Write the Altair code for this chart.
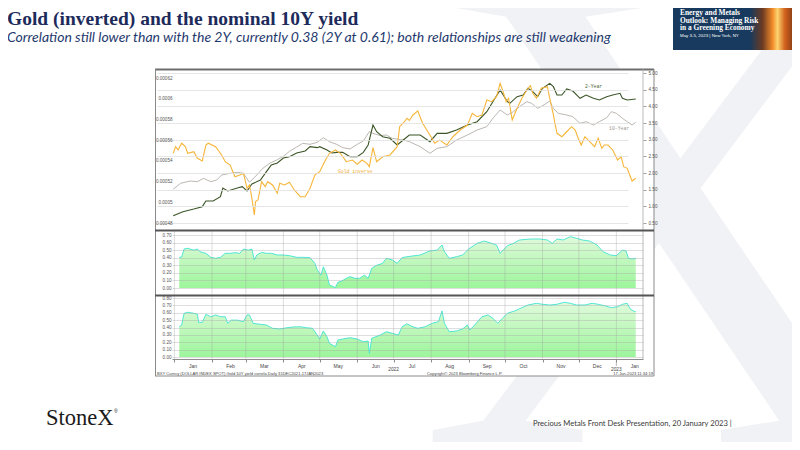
import altair as alt
import pandas as pd

# ------------------------------------------------------------------ data
y2_dates = ["2021-12-31","2022-01-08","2022-01-17","2022-01-24","2022-01-27","2022-02-02","2022-02-08","2022-02-10",
            "2022-02-14","2022-02-22","2022-02-26","2022-03-02","2022-03-06","2022-03-13","2022-03-18","2022-03-22",
            "2022-03-27","2022-04-01","2022-04-06","2022-04-12","2022-04-19","2022-04-23","2022-04-29","2022-05-01",
            "2022-05-07","2022-05-11","2022-05-15","2022-05-20","2022-05-26","2022-06-01","2022-06-06","2022-06-10",
            "2022-06-14","2022-06-17","2022-06-22","2022-06-28","2022-07-04","2022-07-09","2022-07-14","2022-07-23",
            "2022-07-31","2022-08-06","2022-08-14","2022-08-22","2022-08-31","2022-09-08","2022-09-16","2022-09-21",
            "2022-09-27","2022-10-03","2022-10-05","2022-10-11","2022-10-16","2022-10-20","2022-10-24","2022-10-28",
            "2022-11-01","2022-11-07","2022-11-10","2022-11-13","2022-11-17","2022-11-21","2022-11-26","2022-12-02",
            "2022-12-07","2022-12-13","2022-12-18","2022-12-24","2022-12-29","2023-01-04","2023-01-06","2023-01-10",
            "2023-01-17"]
y2_vals = [0.72,0.84,0.92,0.99,1.16,1.16,1.29,1.55,1.46,1.55,1.59,1.46,1.67,1.79,2.04,2.24,2.30,2.45,2.49,2.60,
           2.66,2.79,2.76,2.79,2.69,2.60,2.62,2.62,2.49,2.49,2.62,2.84,3.44,3.24,3.09,3.04,2.84,2.99,3.14,3.14,
           2.94,3.19,3.19,3.29,3.44,3.54,3.84,4.14,4.49,4.14,4.09,4.29,4.34,4.54,4.44,4.29,4.54,4.69,4.59,4.34,
           4.34,4.52,4.46,4.24,4.34,4.24,4.19,4.29,4.34,4.39,4.24,4.19,4.22]

y10_dates = ["2021-12-31","2022-01-06","2022-01-14","2022-01-20","2022-01-25","2022-01-31","2022-02-05","2022-02-09",
             "2022-02-16","2022-02-22","2022-02-27","2022-03-04","2022-03-10","2022-03-15","2022-03-21","2022-03-27",
             "2022-04-01","2022-04-06","2022-04-12","2022-04-17","2022-04-23","2022-04-29","2022-05-04","2022-05-09",
             "2022-05-15","2022-05-20","2022-05-26","2022-06-01","2022-06-06","2022-06-11","2022-06-14","2022-06-20",
             "2022-06-25","2022-06-30","2022-07-09","2022-07-14","2022-07-23","2022-07-31","2022-08-06","2022-08-14",
             "2022-08-22","2022-08-31","2022-09-08","2022-09-16","2022-09-21","2022-09-27","2022-10-03","2022-10-08",
             "2022-10-13","2022-10-19","2022-10-23","2022-10-28","2022-11-03","2022-11-07","2022-11-10","2022-11-14",
             "2022-11-21","2022-11-26","2022-12-02","2022-12-07","2022-12-13","2022-12-18","2022-12-24","2022-12-28",
             "2023-01-01","2023-01-06","2023-01-10","2023-01-14","2023-01-17"]
y10_vals = [1.51,1.69,1.76,1.74,1.84,1.74,1.79,1.94,1.99,2.02,1.99,1.72,1.94,2.14,2.30,2.40,2.50,2.65,2.78,2.89,
            2.86,2.92,3.06,2.94,2.86,2.76,2.72,2.86,2.96,3.24,3.19,3.12,3.14,3.04,2.99,2.94,2.79,2.59,2.74,2.79,
            2.99,3.14,3.29,3.39,3.64,3.89,3.74,3.84,3.99,4.14,4.09,3.94,4.06,4.16,3.94,3.79,3.74,3.69,3.49,3.54,
            3.44,3.54,3.66,3.84,3.79,3.64,3.54,3.44,3.52]

gold_dates = ["2021-12-31","2022-01-02","2022-01-04","2022-01-07","2022-01-10","2022-01-12","2022-01-17","2022-01-20",
              "2022-01-24","2022-01-27","2022-01-29","2022-02-04","2022-02-09","2022-02-12","2022-02-16","2022-02-20",
              "2022-02-24","2022-02-27","2022-03-02","2022-03-04","2022-03-06","2022-03-08","2022-03-09","2022-03-11",
              "2022-03-14","2022-03-17","2022-03-19","2022-03-23","2022-03-27","2022-03-29","2022-04-02","2022-04-06",
              "2022-04-10","2022-04-15","2022-04-19","2022-04-23","2022-04-27","2022-05-01","2022-05-05","2022-05-09",
              "2022-05-14","2022-05-18","2022-05-23","2022-05-28","2022-06-01","2022-06-05","2022-06-09","2022-06-11",
              "2022-06-14","2022-06-17","2022-06-22","2022-06-28","2022-07-04","2022-07-06","2022-07-10","2022-07-12",
              "2022-07-14","2022-07-17","2022-07-21","2022-07-25","2022-07-31","2022-08-04","2022-08-08","2022-08-14",
              "2022-08-19","2022-08-25","2022-08-31","2022-09-04","2022-09-08","2022-09-12","2022-09-16","2022-09-20",
              "2022-09-24","2022-09-27","2022-09-29","2022-10-02","2022-10-04","2022-10-07","2022-10-11","2022-10-15",
              "2022-10-19","2022-10-22","2022-10-24","2022-10-27","2022-10-31","2022-11-05","2022-11-07","2022-11-10",
              "2022-11-11","2022-11-13","2022-11-17","2022-11-21","2022-11-25","2022-11-28","2022-11-30","2022-12-03",
              "2022-12-06","2022-12-10","2022-12-14","2022-12-17","2022-12-20","2022-12-22","2022-12-25","2022-12-29",
              "2023-01-02","2023-01-05","2023-01-07","2023-01-10","2023-01-12","2023-01-14","2023-01-17"]
gold_vals = [0.0005473,0.0005537,0.0005505,0.0005570,0.0005537,0.0005473,0.0005488,0.0005425,
             0.0005399,0.0005553,0.0005570,0.0005537,0.0005457,0.0005392,0.0005360,0.0005247,
             0.0005263,0.0005280,0.0005135,0.0005167,0.0005038,0.0004877,0.0005006,0.0005022,
             0.0005199,0.0005151,0.0005199,0.0005167,0.0005087,0.0005183,0.0005167,0.0005193,
             0.0005119,0.0005054,0.0005054,0.0005135,0.0005263,0.0005295,0.0005392,0.0005473,
             0.0005505,0.0005473,0.0005392,0.0005408,0.0005367,0.0005408,0.0005376,0.0005344,
             0.0005527,0.0005392,0.0005440,0.0005457,0.0005537,0.0005730,0.0005778,0.0005811,
             0.0005790,0.0005843,0.0005882,0.0005763,0.0005650,0.0005570,0.0005601,0.0005553,
             0.0005633,0.0005698,0.0005746,0.0005859,0.0005826,0.0005843,0.0005988,0.0005971,
             0.0006019,0.0006149,0.0006084,0.0005971,0.0006004,0.0005795,0.0005908,0.0006004,
             0.0006084,0.0006126,0.0006052,0.0006004,0.0006101,0.0006116,0.0006004,0.0005843,
             0.0005778,0.0005666,0.0005633,0.0005681,0.0005730,0.0005698,0.0005633,0.0005553,
             0.0005633,0.0005585,0.0005537,0.0005618,0.0005521,0.0005553,0.0005553,0.0005505,
             0.0005408,0.0005440,0.0005344,0.0005328,0.0005263,0.0005205,0.0005232]

c10_dates = ["2022-01-05","2022-01-07","2022-01-09","2022-01-12","2022-01-17","2022-01-20","2022-01-22","2022-01-27",
             "2022-01-31","2022-02-04","2022-02-08","2022-02-12","2022-02-16","2022-02-20","2022-02-24","2022-02-27",
             "2022-03-03","2022-03-06","2022-03-08","2022-03-10","2022-03-14","2022-03-18","2022-03-22","2022-03-27",
             "2022-04-01","2022-04-06","2022-04-12","2022-04-17","2022-04-23","2022-04-27","2022-04-29","2022-05-02",
             "2022-05-04","2022-05-07","2022-05-09","2022-05-12","2022-05-14","2022-05-16","2022-05-19","2022-05-23",
             "2022-05-26","2022-05-30","2022-06-03","2022-06-07","2022-06-10","2022-06-13","2022-06-17","2022-06-22",
             "2022-06-25","2022-06-30","2022-07-04","2022-07-08","2022-07-12","2022-07-23","2022-07-31","2022-08-06",
             "2022-08-10","2022-08-12","2022-08-16","2022-08-22","2022-08-27","2022-09-01","2022-09-08","2022-09-14",
             "2022-09-20","2022-09-24","2022-09-27","2022-10-03","2022-10-08","2022-10-13","2022-10-22","2022-10-30",
             "2022-11-05","2022-11-09","2022-11-13","2022-11-18","2022-11-24","2022-11-29","2022-12-04","2022-12-10",
             "2022-12-16","2022-12-21","2022-12-27","2023-01-01","2023-01-06","2023-01-09","2023-01-11","2023-01-14",
             "2023-01-17"]
c10_vals = [0.405,0.41,0.515,0.524,0.50,0.515,0.48,0.458,0.405,0.392,0.405,0.458,0.458,0.466,0.458,0.515,
            0.50,0.515,0.37,0.436,0.47,0.458,0.458,0.436,0.436,0.427,0.405,0.405,0.40,0.326,0.238,0.17,
            0.28,0.17,0.04,0.02,0.005,0.075,0.09,0.128,0.15,0.128,0.128,0.17,0.128,0.26,0.30,0.326,
            0.392,0.37,0.326,0.40,0.413,0.436,0.49,0.50,0.568,0.48,0.392,0.413,0.436,0.515,0.59,0.62,
            0.59,0.568,0.458,0.559,0.59,0.634,0.647,0.647,0.634,0.59,0.647,0.634,0.678,0.657,0.634,0.62,
            0.568,0.48,0.436,0.427,0.50,0.49,0.392,0.383,0.392]

c2_dates = ["2022-01-05","2022-01-07","2022-01-09","2022-01-12","2022-01-17","2022-01-20","2022-01-21","2022-01-24",
            "2022-01-27","2022-01-31","2022-02-04","2022-02-08","2022-02-12","2022-02-14","2022-02-17","2022-02-22",
            "2022-02-27","2022-03-02","2022-03-04","2022-03-07","2022-03-13","2022-03-18","2022-03-23","2022-03-29",
            "2022-04-04","2022-04-09","2022-04-15","2022-04-20","2022-04-25","2022-04-29","2022-05-01","2022-05-04",
            "2022-05-07","2022-05-09","2022-05-14","2022-05-16","2022-05-20","2022-05-26","2022-06-01","2022-06-06",
            "2022-06-10","2022-06-11","2022-06-13","2022-06-20","2022-06-25","2022-06-30","2022-07-05","2022-07-08",
            "2022-07-12","2022-07-17","2022-07-21","2022-07-27","2022-08-02","2022-08-07","2022-08-10","2022-08-12",
            "2022-08-16","2022-08-22","2022-08-27","2022-08-31","2022-09-02","2022-09-06","2022-09-12","2022-09-17",
            "2022-09-21","2022-09-25","2022-09-29","2022-10-03","2022-10-09","2022-10-15","2022-10-20","2022-10-27",
            "2022-11-01","2022-11-07","2022-11-13","2022-11-19","2022-11-24","2022-11-29","2022-12-06","2022-12-12",
            "2022-12-17","2022-12-22","2022-12-28","2023-01-02","2023-01-06","2023-01-10","2023-01-12","2023-01-15",
            "2023-01-17"]
c2_vals = [0.41,0.434,0.593,0.606,0.593,0.579,0.47,0.47,0.579,0.546,0.57,0.546,0.546,0.457,0.50,0.50,
           0.479,0.57,0.57,0.457,0.443,0.434,0.389,0.38,0.397,0.407,0.41,0.397,0.389,0.298,0.244,0.353,
           0.275,0.186,0.14,0.23,0.244,0.262,0.244,0.207,0.217,0.05,0.254,0.298,0.343,0.321,0.298,0.41,
           0.45,0.41,0.389,0.41,0.457,0.479,0.624,0.457,0.343,0.353,0.38,0.434,0.366,0.434,0.546,0.57,
           0.525,0.457,0.525,0.593,0.624,0.669,0.705,0.728,0.715,0.705,0.715,0.742,0.728,0.705,0.705,0.728,
           0.715,0.696,0.669,0.682,0.715,0.728,0.66,0.624,0.614]

month_ticks = ["2022-01-01","2022-02-01","2022-03-01","2022-04-01","2022-05-01","2022-06-01","2022-07-01",
               "2022-08-01","2022-09-01","2022-10-01","2022-11-01","2022-12-01","2023-01-01"]
year_labels = ["2022", "2023"]
year_dates = ["2022-07-01", "2023-01-01"]

gold_ticks = [0.00048, 0.0005, 0.00052, 0.00054, 0.00056, 0.00058, 0.0006, 0.00062]
yield_ticks = [0.5, 1.0, 1.5, 2.0, 2.5, 3.0, 3.5, 4.0, 4.5, 5.0]
c10_ticks = [0.0, 0.1, 0.2, 0.3, 0.4, 0.5, 0.6, 0.7]
c2_ticks = [0.0, 0.1, 0.2, 0.3, 0.4, 0.5, 0.6, 0.7, 0.8]

series_labels = ["Gold inverse", "2-Year", "10-Year"]
label_dates = ["2022-05-16", "2022-12-06", "2022-12-26"]
label_vals = [0.0005292, 4.58, 3.32]

# ------------------------------------------------------------------ helpers
M = 8  # page margin
one = alt.Data(values=[{"k": 1}])


def dt(s):
    y, m, d = (int(p) for p in s.split("-"))
    return alt.DateTime(year=y, month=m, date=d, utc=True)


def txt(s, X, Y, size, color, font="Lato", weight="normal", style="normal", align="left", baseline="alphabetic"):
    return alt.Chart(one).mark_text(text=s, fontSize=size, color=color, font=font, fontWeight=weight,
                                    fontStyle=style, align=align, baseline=baseline).encode(
        x=alt.value(X - M), y=alt.value(Y - M))


def rect(X1, Y1, X2, Y2, fill):
    return alt.Chart(one).mark_rect(color=fill).encode(
        x=alt.value(X1 - M), x2=alt.value(X2 - M), y=alt.value(Y1 - M), y2=alt.value(Y2 - M))


def hline(X1, X2, Y, color, w):
    return alt.Chart(one).mark_rule(color=color, strokeWidth=w).encode(
        x=alt.value(X1 - M), x2=alt.value(X2 - M), y=alt.value(Y - M))


def vline(X, Y1, Y2, color, w):
    return alt.Chart(one).mark_rule(color=color, strokeWidth=w).encode(
        x=alt.value(X - M), y=alt.value(Y1 - M), y2=alt.value(Y2 - M))


def frame(dates, vals):
    return pd.DataFrame({"date": dates, "v": vals})


# ------------------------------------------------------------------ scales / axes
xs = alt.Scale(type="utc", domain=[dt("2021-12-30"), dt("2023-01-23")], range=[164, 635])
xaxis = alt.Axis(values=[dt(s) for s in month_ticks], format="%b", labelOffset=18, offset=-83,
                 orient="bottom", grid=False, domainColor="#8c8c8c", tickColor="#8c8c8c", tickSize=3,
                 labelFontSize=5, labelColor="#444", labelPadding=1, labelFont="Liberation Sans",
                 labelOverlap=False, labelFlush=False, labelBound=False, title=None, zindex=2)
X = alt.X("date:T", scale=xs, axis=xaxis, title=None)

AX = dict(labelFont="Liberation Sans", labelFontSize=4.6, labelColor="#555", title=None, labelOverlap=False)

gold_s = alt.Scale(domain=[0.00048, 0.00062], range=[215, 70], zero=False, nice=False)
yld_s = alt.Scale(domain=[0.5, 5.0], range=[215, 65], zero=False, nice=False)
c10_s = alt.Scale(domain=[0.0, 0.7], range=[280, 227], nice=False)
c2_s = alt.Scale(domain=[0.0, 0.8], range=[349, 290], nice=False)

gold_ax = alt.Axis(orient="left", offset=-166, values=gold_ticks, format="~g", grid=False, ticks=False,
                   domain=False, labelPadding=2, zindex=2, **AX)
yld_ax = alt.Axis(orient="right", offset=-149, values=yield_ticks, format=".2f", grid=True,
                  gridColor="#e0e0e0", gridWidth=0.8, ticks=True, tickSize=3, tickColor="#a0a0a0",
                  domain=False, labelPadding=2, zindex=1, **AX)
c10_ax = alt.Axis(orient="left", offset=-167, values=c10_ticks, format=".2f", grid=True,
                  gridColor="#a9a9a9", gridOpacity=0.55, gridWidth=0.7, ticks=False, domain=False,
                  labelPadding=4, zindex=1, **AX)
c2_ax = alt.Axis(orient="left", offset=-167, values=c2_ticks, format=".2f", grid=True,
                 gridColor="#a9a9a9", gridOpacity=0.55, gridWidth=0.7, ticks=False, domain=False,
                 labelPadding=4, zindex=1, **AX)

green = alt.Gradient(gradient="linear", x1=1, x2=1, y1=1, y2=0,
                     stops=[alt.GradientStop(color="#72f170", offset=0),
                            alt.GradientStop(color="#d3f8cd", offset=1)])
fire = alt.Gradient(gradient="linear", x1=0, y1=0.5, x2=1, y2=0.5,
                    stops=[alt.GradientStop(color="#173a5e", offset=0),
                           alt.GradientStop(color="#6b3a22", offset=0.25),
                           alt.GradientStop(color="#f08a2a", offset=0.45),
                           alt.GradientStop(color="#ffd36e", offset=0.55),
                           alt.GradientStop(color="#d2601c", offset=0.7),
                           alt.GradientStop(color="#4a2012", offset=1)])

# ------------------------------------------------------------------ layers
layers = []
# watermark X
layers.append(txt("X", 670, 448, 700, "#f1f2f5", font="Liberation Serif", align="center"))

# slide title
layers.append(txt("Gold (inverted) and the nominal 10Y yield", 7, 25, 19.5, "#1d2b5b",
                  font="Liberation Serif", weight="bold"))
layers.append(txt("Correlation still lower than with the 2Y, currently 0.38 (2Y at 0.61); both relationships are still weakening",
                  7, 42, 14, "#1f3a6e", font="Lato", style="italic"))

# event logo
layers.append(rect(673, 0, 800, 50, "#173a5e"))
layers.append(rect(750, 0, 800, 50, fire))
layers.append(txt("Energy and Metals", 680, 15, 7.4, "#ffffff", font="Liberation Serif", weight="bold"))
layers.append(txt("Outlook: Managing Risk", 680, 22.5, 7.4, "#ffffff", font="Liberation Serif", weight="bold"))
layers.append(txt("in a Greening Economy", 680, 30, 7.4, "#ffffff", font="Liberation Serif", weight="bold"))
layers.append(txt("May 3-5, 2023 | New York, NY", 680, 37, 4.4, "#ffffff", font="Liberation Sans"))

# chart box background
layers.append(rect(155, 69, 654, 376, "#ffffff"))

# correlation areas
layers.append(alt.Chart(frame(c10_dates, c10_vals)).mark_area(
    color=green, line={"color": "#3fe3d2", "strokeWidth": 0.9}).encode(
    x=X, y=alt.Y("v:Q", scale=c10_s, axis=c10_ax, title=None)))
layers.append(alt.Chart(frame(c2_dates, c2_vals)).mark_area(
    color=green, line={"color": "#3fe3d2", "strokeWidth": 0.9}).encode(
    x=X, y=alt.Y("v:Q", scale=c2_s, axis=c2_ax, title=None)))

# month grid in lower panels
layers.append(alt.Chart(pd.DataFrame({"date": month_ticks})).mark_rule(
    color="#9a9a9a", strokeWidth=0.6, opacity=0.55).encode(
    x=X, y=alt.value(231 - M), y2=alt.value(359 - M)))

# yields and gold
layers.append(alt.Chart(frame(y10_dates, y10_vals)).mark_line(color="#bcb7b1", strokeWidth=1).encode(
    x=X, y=alt.Y("v:Q", scale=yld_s, axis=None, title=None)))
layers.append(alt.Chart(frame(y2_dates, y2_vals)).mark_line(color="#3b5526", strokeWidth=1.1).encode(
    x=X, y=alt.Y("v:Q", scale=yld_s, axis=yld_ax, title=None)))
layers.append(alt.Chart(frame(gold_dates, gold_vals)).mark_line(color="#f7b63a", strokeWidth=1.1).encode(
    x=X, y=alt.Y("v:Q", scale=gold_s, axis=gold_ax, title=None)))

# series labels
lab_font = dict(font="Liberation Mono", fontSize=4.8, align="left", baseline="middle")
layers.append(alt.Chart(pd.DataFrame({"date": label_dates[:1], "v": label_vals[:1], "t": series_labels[:1]}))
              .mark_text(color="#f2b13a", **lab_font).encode(
    x=X, y=alt.Y("v:Q", scale=gold_s, axis=None), text="t:N"))
layers.append(alt.Chart(pd.DataFrame({"date": label_dates[1:2], "v": label_vals[1:2], "t": series_labels[1:2]}))
              .mark_text(color="#4c6634", **lab_font).encode(
    x=X, y=alt.Y("v:Q", scale=yld_s, axis=None), text="t:N"))
layers.append(alt.Chart(pd.DataFrame({"date": label_dates[2:], "v": label_vals[2:], "t": series_labels[2:]}))
              .mark_text(color="#9d9893", **lab_font).encode(
    x=X, y=alt.Y("v:Q", scale=yld_s, axis=None), text="t:N"))

# year labels under the axis
layers.append(alt.Chart(pd.DataFrame({"date": year_dates, "t": year_labels})).mark_text(
    fontSize=4.8, font="Liberation Sans", color="#444", baseline="alphabetic").encode(
    x=X, y=alt.value(371 - M), text="t:N"))
layers.append(alt.Chart(pd.DataFrame({"date": year_dates[1:]})).mark_rule(color="#8c8c8c", strokeWidth=0.6).encode(
    x=X, y=alt.value(361 - M), y2=alt.value(366 - M)))

# frame lines
layers.append(hline(155, 654, 69.5, "#6e6e6e", 1.8))
layers.append(vline(155.5, 69, 376, "#8a8a8a", 1))
layers.append(vline(654, 69, 376, "#8a8a8a", 1))
layers.append(hline(155, 654, 376, "#8a8a8a", 1))
layers.append(vline(643, 69, 359, "#a8a8a8", 0.8))
layers.append(hline(155, 654, 230.5, "#555555", 1.8))
layers.append(hline(155, 654, 295.5, "#555555", 1.8))

# bloomberg footer line
layers.append(txt("BXY Curncy (DOLLAR INDEX SPOT) Gold 10Y yield correla   Daily 31DEC2021-17JAN2023",
                  157, 374.5, 4.1, "#444", font="Liberation Sans"))
layers.append(txt("Copyright\u00a9 2023 Bloomberg Finance L.P.", 427, 374.5, 4.1, "#444", font="Liberation Sans"))
layers.append(txt("17-Jan-2023 11:34:19", 653, 374.5, 4.1, "#444", font="Liberation Sans", align="right"))

# slide footer
layers.append(txt("StoneX", 46, 425, 22.5, "#1a1a1a", font="Liberation Serif"))
layers.append(txt("\u00ae", 114, 413, 5, "#1a1a1a", font="Liberation Sans"))
layers.append(txt("Precious Metals Front Desk Presentation, 20 January 2023 |", 533, 426, 7.6, "#3a3a3a",
                  font="Lato"))

chart = alt.layer(*layers).resolve_scale(y="independent").properties(
    width=784, height=434, autosize=alt.AutoSizeParams(type="none"), padding=0,
    background="#ffffff").configure_view(stroke=None)

chart.save("out.html", embed_options={"renderer": "svg", "actions": False})
